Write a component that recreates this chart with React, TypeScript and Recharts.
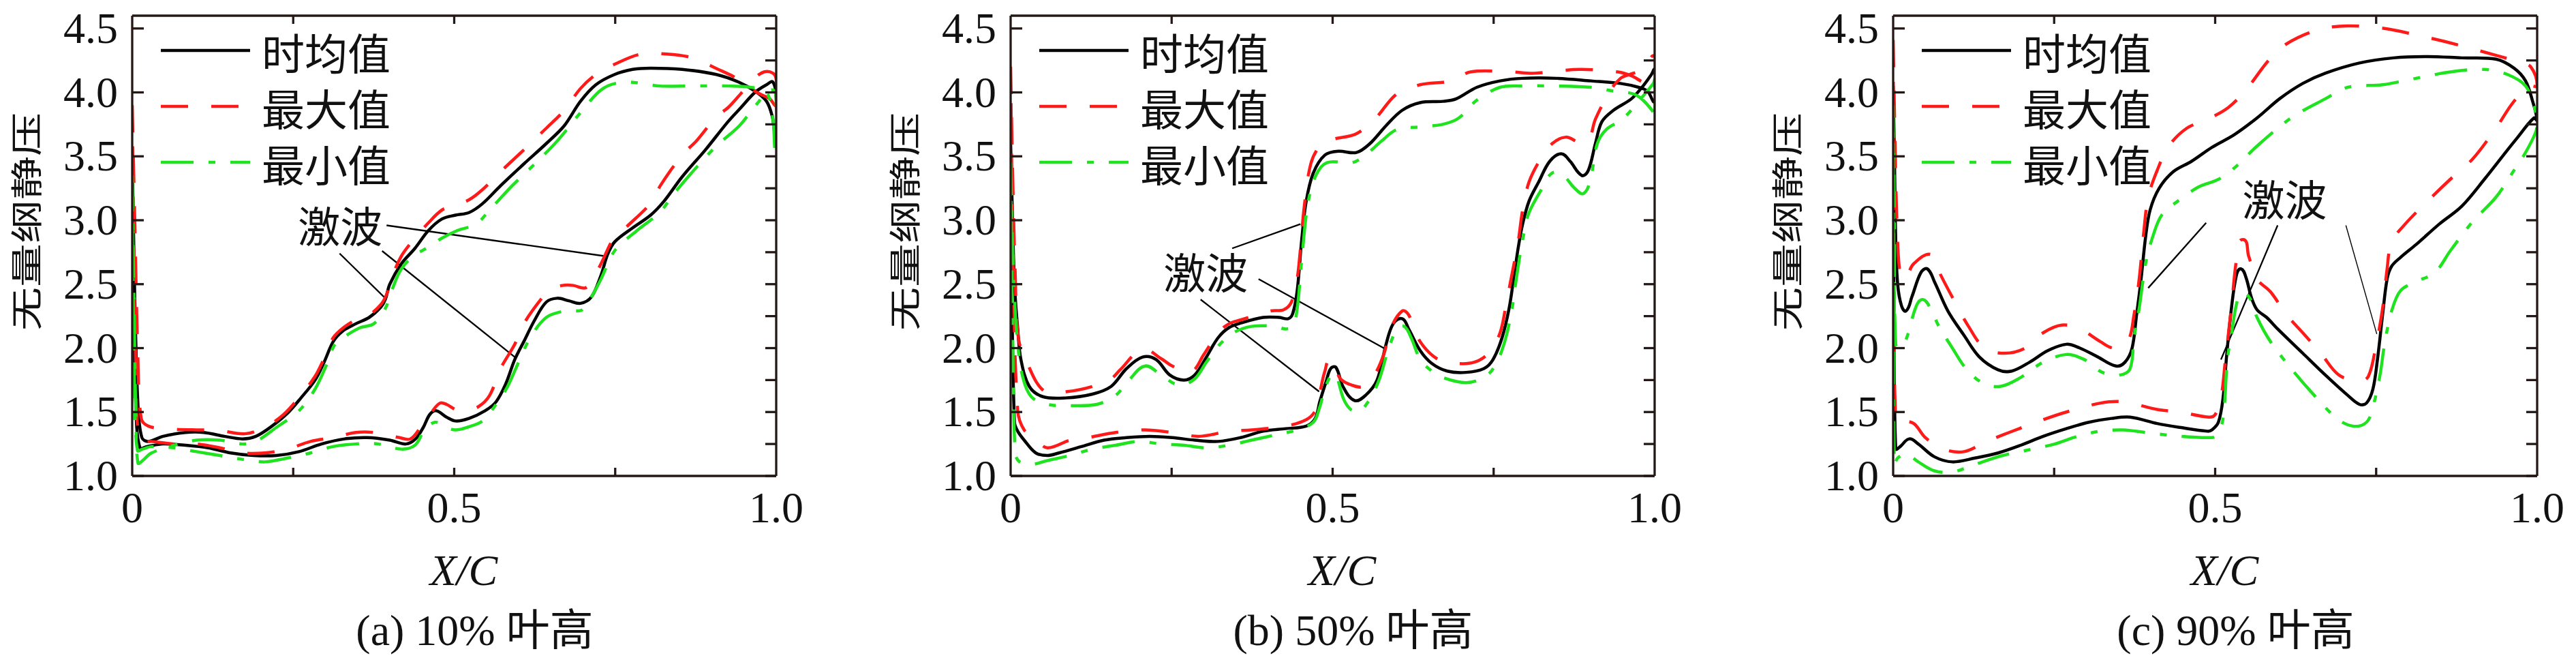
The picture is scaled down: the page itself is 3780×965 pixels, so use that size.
import React from "react";
import {
  LineChart,
  Line,
  XAxis,
  YAxis,
  ReferenceLine,
  ReferenceDot,
  Legend,
} from "recharts";

type Pt = [number, number];

// axis ticks
const xTicks = [0, 0.25, 0.5, 0.75, 1];
const yMajorTicks = [1, 1.5, 2, 2.5, 3, 3.5, 4, 4.5];
const yMinorTicks = [1, 1.25, 1.5, 1.75, 2, 2.25, 2.5, 2.75, 3, 3.25, 3.5, 3.75, 4, 4.25, 4.5];
const xLabels: Record<string, string> = { "0": "0", "0.5": "0.5", "1": "1.0" };

const seriesNames = ["时均值", "最大值", "最小值"];
const captions = ["(a) 10% 叶高", "(b) 50% 叶高", "(c) 90% 叶高"];
const shockText = "激波";

// ---- (a) 10% span : each curve is a loop, first branch LE -> TE, second TE -> LE
const aMeanUp: Pt[] = [
  [0, 3.5], [0.004, 2.4], [0.009, 1.55], [0.015, 1.3], [0.025, 1.27], [0.048, 1.31], [0.083, 1.34],
  [0.111, 1.34], [0.143, 1.31], [0.171, 1.29], [0.192, 1.31], [0.217, 1.39], [0.241, 1.49], [0.262, 1.61],
  [0.284, 1.75], [0.298, 1.89], [0.312, 2.05], [0.326, 2.13], [0.347, 2.19], [0.368, 2.24], [0.386, 2.32],
  [0.393, 2.38], [0.4, 2.5], [0.418, 2.66], [0.439, 2.78], [0.46, 2.92], [0.481, 3.01], [0.502, 3.04],
  [0.523, 3.06], [0.544, 3.13], [0.572, 3.27], [0.608, 3.44], [0.643, 3.6], [0.671, 3.74], [0.696, 3.93],
  [0.72, 4.06], [0.749, 4.14], [0.777, 4.18], [0.805, 4.19], [0.854, 4.18], [0.907, 4.14], [0.942, 4.08],
  [0.967, 4.01], [0.985, 3.93], [0.994, 3.81], [1.0, 3.65],
];
const aMeanLow: Pt[] = [
  [1.0, 3.95], [0.995, 4.08], [0.985, 4.06], [0.967, 4.0], [0.945, 3.88], [0.925, 3.77], [0.89, 3.55],
  [0.854, 3.34], [0.826, 3.15], [0.805, 3.04], [0.777, 2.94], [0.749, 2.83], [0.738, 2.73], [0.728, 2.57],
  [0.713, 2.4], [0.696, 2.35], [0.678, 2.37], [0.66, 2.39], [0.643, 2.36], [0.625, 2.22], [0.608, 2.05],
  [0.594, 1.91], [0.58, 1.72], [0.565, 1.58], [0.548, 1.51], [0.523, 1.45], [0.502, 1.43], [0.488, 1.46],
  [0.472, 1.51], [0.462, 1.48], [0.452, 1.38], [0.44, 1.29], [0.425, 1.25], [0.4, 1.28], [0.365, 1.3],
  [0.33, 1.29], [0.294, 1.25], [0.259, 1.19], [0.224, 1.16], [0.188, 1.16], [0.153, 1.18], [0.118, 1.22],
  [0.083, 1.24], [0.048, 1.25], [0.023, 1.23], [0.012, 1.22], [0.006, 1.5], [0.002, 2.5], [0, 3.5],
];
const aMaxUp: Pt[] = [
  [0, 3.9], [0.004, 3.0], [0.009, 1.9], [0.014, 1.45], [0.025, 1.39], [0.05, 1.37], [0.1, 1.36], [0.13, 1.36],
  [0.175, 1.33], [0.206, 1.38], [0.235, 1.48], [0.26, 1.62], [0.284, 1.78], [0.298, 1.92], [0.312, 2.08],
  [0.328, 2.16], [0.347, 2.22], [0.368, 2.26], [0.386, 2.34], [0.395, 2.42], [0.403, 2.55], [0.418, 2.72],
  [0.439, 2.86], [0.46, 2.98], [0.481, 3.08], [0.502, 3.12], [0.523, 3.16], [0.544, 3.24], [0.572, 3.38],
  [0.608, 3.55], [0.643, 3.72], [0.671, 3.86], [0.696, 4.03], [0.72, 4.14], [0.749, 4.22], [0.79, 4.3],
  [0.83, 4.3], [0.87, 4.27], [0.91, 4.18], [0.935, 4.12], [0.953, 4.06], [0.97, 4.0], [0.99, 3.95], [1.0, 3.9],
];
const aMaxLow: Pt[] = [
  [1.0, 4.1], [0.995, 4.15], [0.981, 4.16], [0.964, 4.1], [0.945, 3.99], [0.925, 3.88], [0.907, 3.81],
  [0.876, 3.62], [0.854, 3.51], [0.82, 3.27], [0.808, 3.15], [0.77, 2.96], [0.749, 2.87], [0.728, 2.66],
  [0.713, 2.52], [0.703, 2.47], [0.685, 2.49], [0.668, 2.49], [0.65, 2.46], [0.636, 2.39], [0.608, 2.19],
  [0.594, 2.03], [0.572, 1.84], [0.555, 1.63], [0.537, 1.54], [0.516, 1.51], [0.502, 1.52], [0.488, 1.56],
  [0.478, 1.57], [0.465, 1.5], [0.449, 1.39], [0.432, 1.29], [0.415, 1.3], [0.375, 1.34], [0.347, 1.34],
  [0.312, 1.3], [0.277, 1.27], [0.241, 1.21], [0.206, 1.18], [0.171, 1.18], [0.136, 1.22], [0.1, 1.25],
  [0.065, 1.25], [0.03, 1.27], [0.012, 1.28], [0.006, 1.8], [0.002, 3.0], [0, 3.9],
];
const aMinUp: Pt[] = [
  [0, 3.35], [0.003, 2.3], [0.006, 1.4], [0.009, 1.1], [0.016, 1.12], [0.03, 1.18], [0.065, 1.24], [0.1, 1.28],
  [0.136, 1.28], [0.171, 1.25], [0.192, 1.27], [0.224, 1.38], [0.259, 1.51], [0.284, 1.68], [0.301, 1.86],
  [0.315, 2.03], [0.333, 2.1], [0.354, 2.16], [0.375, 2.19], [0.393, 2.31], [0.403, 2.45], [0.418, 2.62],
  [0.439, 2.73], [0.453, 2.77], [0.481, 2.86], [0.505, 2.92], [0.534, 2.97], [0.555, 3.08], [0.59, 3.27],
  [0.625, 3.44], [0.66, 3.62], [0.696, 3.84], [0.731, 4.03], [0.766, 4.08], [0.819, 4.05], [0.872, 4.05],
  [0.925, 4.05], [0.96, 4.04], [0.985, 4.0], [0.995, 3.79], [1.0, 3.55],
];
const aMinLow: Pt[] = [
  [1.0, 3.9], [0.994, 4.02], [0.97, 3.91], [0.943, 3.74], [0.907, 3.58], [0.872, 3.39], [0.84, 3.2],
  [0.819, 3.06], [0.784, 2.92], [0.749, 2.76], [0.728, 2.54], [0.713, 2.4], [0.699, 2.3], [0.685, 2.29],
  [0.671, 2.29], [0.643, 2.24], [0.618, 2.08], [0.6, 1.89], [0.583, 1.7], [0.565, 1.56], [0.544, 1.43],
  [0.52, 1.38], [0.502, 1.36], [0.488, 1.38], [0.47, 1.42], [0.453, 1.35], [0.439, 1.24], [0.418, 1.21],
  [0.382, 1.25], [0.347, 1.25], [0.312, 1.23], [0.277, 1.18], [0.241, 1.14], [0.206, 1.11], [0.171, 1.13],
  [0.136, 1.16], [0.1, 1.19], [0.065, 1.22], [0.03, 1.23], [0.016, 1.21], [0.008, 1.2], [0.004, 1.6],
  [0.001, 2.6], [0, 3.35],
];

// ---- (b) 50% span
const bMeanUp: Pt[] = [
  [0, 3.6], [0.003, 3.0], [0.006, 2.5], [0.011, 2.15], [0.016, 1.91], [0.029, 1.7], [0.05, 1.62], [0.085, 1.61],
  [0.127, 1.64], [0.156, 1.7], [0.18, 1.84], [0.205, 1.93], [0.226, 1.91], [0.247, 1.79], [0.269, 1.75],
  [0.286, 1.79], [0.304, 1.93], [0.322, 2.08], [0.339, 2.16], [0.36, 2.2], [0.392, 2.24], [0.417, 2.24],
  [0.431, 2.23], [0.438, 2.27], [0.445, 2.45], [0.452, 2.85], [0.459, 3.15], [0.47, 3.37], [0.488, 3.51],
  [0.509, 3.54], [0.537, 3.53], [0.558, 3.6], [0.583, 3.74], [0.608, 3.86], [0.636, 3.92], [0.671, 3.93],
  [0.692, 3.95], [0.724, 4.04], [0.76, 4.09], [0.795, 4.11], [0.848, 4.11], [0.901, 4.09], [0.947, 4.07],
  [0.975, 4.04], [0.989, 4.01], [1.0, 3.93],
];
const bMeanLow: Pt[] = [
  [1.0, 4.18], [0.995, 4.14], [0.982, 4.05], [0.964, 3.95], [0.936, 3.86], [0.918, 3.77], [0.908, 3.6],
  [0.897, 3.39], [0.887, 3.35], [0.869, 3.46], [0.855, 3.52], [0.837, 3.46], [0.82, 3.3], [0.805, 3.15],
  [0.795, 2.97], [0.788, 2.78], [0.781, 2.54], [0.774, 2.31], [0.763, 2.08], [0.749, 1.91], [0.735, 1.84],
  [0.707, 1.81], [0.678, 1.82], [0.654, 1.88], [0.636, 1.98], [0.618, 2.15], [0.608, 2.23], [0.594, 2.19],
  [0.583, 2.03], [0.569, 1.75], [0.551, 1.63], [0.534, 1.59], [0.516, 1.7], [0.505, 1.85], [0.497, 1.84],
  [0.49, 1.74], [0.48, 1.58], [0.473, 1.45], [0.459, 1.39], [0.427, 1.37], [0.392, 1.35], [0.357, 1.3],
  [0.322, 1.27], [0.286, 1.28], [0.251, 1.3], [0.216, 1.31], [0.18, 1.3], [0.145, 1.28], [0.11, 1.23],
  [0.075, 1.18], [0.057, 1.16], [0.039, 1.18], [0.021, 1.28], [0.011, 1.35], [0.006, 1.42], [0.002, 2.4], [0, 3.6],
];
const bMaxUp: Pt[] = [
  [0, 4.2], [0.003, 3.4], [0.007, 2.6], [0.012, 2.08], [0.025, 1.89], [0.053, 1.66], [0.088, 1.66], [0.127, 1.7],
  [0.156, 1.76], [0.17, 1.83], [0.205, 1.99], [0.233, 1.92], [0.251, 1.86], [0.279, 1.81], [0.3, 1.95],
  [0.322, 2.12], [0.339, 2.19], [0.357, 2.22], [0.403, 2.29], [0.424, 2.3], [0.436, 2.36], [0.445, 2.54],
  [0.456, 3.11], [0.466, 3.44], [0.48, 3.58], [0.498, 3.63], [0.534, 3.67], [0.555, 3.74], [0.569, 3.81],
  [0.6, 3.99], [0.636, 4.06], [0.685, 4.09], [0.714, 4.16], [0.777, 4.16], [0.813, 4.15], [0.883, 4.18],
  [0.943, 4.16], [0.964, 4.13], [0.982, 4.08], [1.0, 4.05],
];
const bMaxLow: Pt[] = [
  [1.0, 4.28], [0.982, 4.18], [0.961, 4.14], [0.947, 4.11], [0.932, 4.02], [0.908, 3.79], [0.897, 3.62],
  [0.883, 3.61], [0.862, 3.65], [0.841, 3.6], [0.823, 3.48], [0.805, 3.3], [0.795, 3.08], [0.788, 2.83],
  [0.777, 2.54], [0.77, 2.36], [0.76, 2.12], [0.742, 1.96], [0.72, 1.89], [0.692, 1.88], [0.664, 1.91],
  [0.636, 2.05], [0.618, 2.26], [0.608, 2.29], [0.59, 2.15], [0.58, 1.96], [0.565, 1.79], [0.548, 1.7],
  [0.53, 1.71], [0.512, 1.76], [0.497, 1.91], [0.488, 1.82], [0.48, 1.65], [0.473, 1.51], [0.459, 1.44],
  [0.427, 1.39], [0.374, 1.36], [0.339, 1.35], [0.293, 1.31], [0.251, 1.34], [0.209, 1.36], [0.163, 1.34],
  [0.12, 1.3], [0.092, 1.28], [0.057, 1.22], [0.039, 1.29], [0.021, 1.36], [0.011, 1.51], [0.004, 2.6], [0, 4.2],
];
const bMinUp: Pt[] = [
  [0, 3.45], [0.003, 2.8], [0.007, 2.3], [0.011, 2.03], [0.018, 1.79], [0.032, 1.62], [0.057, 1.56], [0.092, 1.55],
  [0.134, 1.56], [0.163, 1.63], [0.184, 1.75], [0.209, 1.86], [0.233, 1.79], [0.262, 1.71], [0.286, 1.76],
  [0.304, 1.89], [0.325, 2.03], [0.346, 2.12], [0.374, 2.17], [0.41, 2.17], [0.427, 2.15], [0.438, 2.17],
  [0.445, 2.31], [0.452, 2.69], [0.461, 3.11], [0.473, 3.34], [0.491, 3.45], [0.53, 3.45], [0.551, 3.51],
  [0.576, 3.62], [0.6, 3.71], [0.636, 3.73], [0.671, 3.75], [0.696, 3.8], [0.724, 3.94], [0.76, 4.04],
  [0.795, 4.05], [0.848, 4.05], [0.901, 4.04], [0.936, 4.01], [0.971, 3.98], [0.996, 3.86], [1.0, 3.8],
];
const bMinLow: Pt[] = [
  [1.0, 4.1], [0.998, 4.07], [0.975, 3.93], [0.95, 3.79], [0.925, 3.71], [0.911, 3.6], [0.901, 3.34],
  [0.89, 3.21], [0.876, 3.25], [0.858, 3.35], [0.841, 3.37], [0.823, 3.23], [0.805, 3.06], [0.798, 2.92],
  [0.791, 2.73], [0.784, 2.5], [0.777, 2.26], [0.766, 2.03], [0.752, 1.86], [0.735, 1.77], [0.707, 1.73],
  [0.671, 1.77], [0.654, 1.82], [0.636, 1.91], [0.622, 2.08], [0.611, 2.17], [0.6, 2.15], [0.586, 1.98],
  [0.572, 1.75], [0.555, 1.58], [0.537, 1.5], [0.519, 1.58], [0.505, 1.79], [0.498, 1.79], [0.488, 1.68],
  [0.48, 1.54], [0.47, 1.42], [0.445, 1.36], [0.41, 1.32], [0.374, 1.28], [0.339, 1.24], [0.304, 1.22],
  [0.269, 1.24], [0.233, 1.25], [0.198, 1.27], [0.163, 1.24], [0.127, 1.21], [0.092, 1.16], [0.057, 1.12],
  [0.032, 1.09], [0.014, 1.11], [0.007, 1.18], [0.003, 2.2], [0, 3.45],
];

// ---- (c) 90% span
const cMeanUp: Pt[] = [
  [0, 4.05], [0.002, 3.5], [0.004, 2.85], [0.007, 2.5], [0.013, 2.33], [0.02, 2.29], [0.029, 2.4], [0.043, 2.59],
  [0.053, 2.62], [0.064, 2.52], [0.085, 2.29], [0.11, 2.1], [0.134, 1.93], [0.163, 1.83], [0.184, 1.82],
  [0.212, 1.89], [0.24, 1.98], [0.269, 2.03], [0.29, 2.0], [0.318, 1.93], [0.346, 1.86], [0.36, 1.89],
  [0.371, 2.0], [0.378, 2.26], [0.385, 2.54], [0.392, 2.87], [0.399, 3.08], [0.413, 3.25], [0.435, 3.38],
  [0.463, 3.46], [0.495, 3.57], [0.53, 3.67], [0.565, 3.8], [0.6, 3.95], [0.636, 4.07], [0.671, 4.15],
  [0.724, 4.23], [0.777, 4.27], [0.83, 4.28], [0.883, 4.27], [0.936, 4.26], [0.964, 4.19], [0.982, 4.09],
  [0.993, 3.93], [1.0, 3.78],
];
const cMeanLow: Pt[] = [
  [0.995, 3.8], [0.97, 3.65], [0.954, 3.55], [0.918, 3.32], [0.883, 3.11], [0.848, 2.97], [0.812, 2.81],
  [0.788, 2.71], [0.774, 2.64], [0.767, 2.54], [0.76, 2.26], [0.752, 1.91], [0.745, 1.68], [0.735, 1.57],
  [0.724, 1.56], [0.706, 1.63], [0.671, 1.79], [0.636, 1.96], [0.597, 2.15], [0.58, 2.24], [0.565, 2.3],
  [0.556, 2.4], [0.548, 2.55], [0.54, 2.62], [0.533, 2.57], [0.525, 2.3], [0.518, 1.95], [0.512, 1.6],
  [0.505, 1.42], [0.495, 1.36], [0.488, 1.35], [0.445, 1.38], [0.41, 1.41], [0.368, 1.46], [0.339, 1.45],
  [0.304, 1.42], [0.269, 1.37], [0.233, 1.31], [0.198, 1.24], [0.163, 1.18], [0.127, 1.14], [0.092, 1.11],
  [0.064, 1.15], [0.039, 1.25], [0.025, 1.29], [0.011, 1.23], [0.004, 1.21], [0.001, 2.5], [0, 4.05],
];
const cMaxUp: Pt[] = [
  [0, 4.41], [0.003, 3.6], [0.006, 2.97], [0.011, 2.57], [0.018, 2.54], [0.032, 2.66], [0.06, 2.73], [0.074, 2.57],
  [0.096, 2.36], [0.117, 2.17], [0.142, 2.0], [0.173, 1.96], [0.205, 2.0], [0.233, 2.12], [0.262, 2.18],
  [0.29, 2.15], [0.322, 2.05], [0.343, 2.0], [0.364, 2.05], [0.374, 2.26], [0.382, 2.54], [0.389, 2.9],
  [0.396, 3.18], [0.41, 3.39], [0.428, 3.58], [0.456, 3.72], [0.488, 3.79], [0.52, 3.88], [0.548, 4.02],
  [0.583, 4.25], [0.611, 4.38], [0.66, 4.49], [0.706, 4.52], [0.763, 4.5], [0.812, 4.45], [0.855, 4.4],
  [0.9, 4.34], [0.936, 4.29], [0.97, 4.24], [0.99, 4.2], [1.0, 4.05],
];
const cMaxLow: Pt[] = [
  [0.99, 4.05], [0.964, 3.93], [0.936, 3.72], [0.9, 3.48], [0.865, 3.32], [0.83, 3.15], [0.795, 2.97],
  [0.774, 2.83], [0.767, 2.62], [0.76, 2.31], [0.749, 2.0], [0.738, 1.78], [0.725, 1.74], [0.692, 1.79],
  [0.664, 1.96], [0.636, 2.12], [0.611, 2.26], [0.586, 2.44], [0.565, 2.54], [0.552, 2.72], [0.543, 2.85],
  [0.534, 2.72], [0.525, 2.31], [0.516, 1.91], [0.509, 1.61], [0.5, 1.48], [0.49, 1.46], [0.445, 1.5],
  [0.41, 1.52], [0.357, 1.58], [0.322, 1.57], [0.269, 1.5], [0.233, 1.44], [0.18, 1.34], [0.145, 1.27],
  [0.11, 1.19], [0.078, 1.21], [0.05, 1.3], [0.032, 1.41], [0.014, 1.43], [0.004, 1.43], [0.001, 3.0], [0, 4.41],
];
const cMinUp: Pt[] = [
  [0, 3.9], [0.002, 3.0], [0.004, 2.03], [0.012, 2.0], [0.021, 2.08], [0.036, 2.33], [0.046, 2.38], [0.057, 2.32],
  [0.071, 2.17], [0.092, 2.0], [0.113, 1.84], [0.138, 1.73], [0.166, 1.7], [0.198, 1.77], [0.233, 1.89],
  [0.269, 1.95], [0.297, 1.91], [0.325, 1.81], [0.353, 1.79], [0.368, 1.84], [0.374, 2.08], [0.382, 2.31],
  [0.392, 2.66], [0.403, 2.87], [0.417, 3.04], [0.442, 3.15], [0.474, 3.26], [0.505, 3.32], [0.53, 3.41],
  [0.565, 3.58], [0.618, 3.8], [0.671, 3.95], [0.706, 4.04], [0.76, 4.06], [0.812, 4.11], [0.865, 4.16],
  [0.918, 4.18], [0.954, 4.14], [0.982, 4.05], [0.996, 3.88], [1.0, 3.76],
];
const cMinLow: Pt[] = [
  [0.997, 3.68], [0.982, 3.53], [0.964, 3.39], [0.936, 3.18], [0.9, 2.99], [0.865, 2.76], [0.841, 2.59],
  [0.812, 2.52], [0.788, 2.45], [0.774, 2.29], [0.763, 2.03], [0.756, 1.79], [0.745, 1.54], [0.735, 1.42],
  [0.714, 1.39], [0.689, 1.45], [0.654, 1.63], [0.618, 1.84], [0.586, 2.05], [0.565, 2.24], [0.555, 2.38],
  [0.544, 2.43], [0.535, 2.38], [0.525, 2.1], [0.519, 1.91], [0.512, 1.44], [0.502, 1.32], [0.495, 1.3],
  [0.445, 1.31], [0.392, 1.34], [0.357, 1.36], [0.322, 1.35], [0.286, 1.31], [0.251, 1.25], [0.216, 1.21],
  [0.17, 1.16], [0.127, 1.09], [0.092, 1.03], [0.064, 1.04], [0.039, 1.11], [0.021, 1.17], [0.007, 1.14],
  [0.002, 1.09], [0.001, 2.2], [0, 3.9],
];

// shock annotations (text centre, leader lines) in data units
const aShockText: Pt = [0.323, 2.94];
const aShockLines: Pt[][] = [
  [[0.395, 2.96], [0.733, 2.72]],
  [[0.388, 2.76], [0.594, 1.93]],
  [[0.322, 2.74], [0.393, 2.39]],
];
const bShockText: Pt = [0.303, 2.58];
const bShockLines: Pt[][] = [
  [[0.344, 2.78], [0.45, 2.97]],
  [[0.385, 2.54], [0.583, 1.99]],
  [[0.295, 2.38], [0.479, 1.66]],
];
const cShockText: Pt = [0.608, 3.15];
const cShockLines: Pt[][] = [
  [[0.597, 2.96], [0.509, 1.91]],
  [[0.703, 2.96], [0.751, 2.11]],
  [[0.486, 2.98], [0.396, 2.47]],
];

// ---- layout / style
const CHART_W = 1190;
const CHART_H = 965;
const PLOT_LEFT = 194;
const PLOT_W = 945;
const PLOT_TOP = 23;
const PLOT_BOTTOM = 698;
const PANEL_LEFTS = [0, 1289, 2584];
const AXIS = "#231815";
const SERIF = '"Liberation Serif", "Times New Roman", serif';
const CJK = '"Noto Sans CJK SC", "Noto Sans", sans-serif';
const MIXED = '"Liberation Serif", "Noto Sans CJK SC", serif';

const seriesStyle = [
  { stroke: "#000000", dash: undefined as string | undefined },
  { stroke: "#ff1a1a", dash: "40 34" },
  { stroke: "#1ee31e", dash: "48 22 10 22" },
];

const toRows = (up: Pt[], low: Pt[]) => [...up, ...low].map(([x, y]) => ({ x, y }));

const panels = [
  {
    caption: captions[0],
    series: [toRows(aMeanUp, aMeanLow), toRows(aMaxUp, aMaxLow), toRows(aMinUp, aMinLow)],
    shockText: aShockText,
    shockLines: aShockLines,
    thinLine: -1,
  },
  {
    caption: captions[1],
    series: [toRows(bMeanUp, bMeanLow), toRows(bMaxUp, bMaxLow), toRows(bMinUp, bMinLow)],
    shockText: bShockText,
    shockLines: bShockLines,
    thinLine: -1,
  },
  {
    caption: captions[2],
    series: [toRows(cMeanUp, cMeanLow), toRows(cMaxUp, cMaxLow), toRows(cMinUp, cMinLow)],
    shockText: cShockText,
    shockLines: cShockLines,
    thinLine: 1,
  },
];

// smooth curve through the points (works for loops, x need not be monotone)
function smoothCurve(context: any) {
  let pts: number[][] = [];
  return {
    areaStart() {},
    areaEnd() {},
    lineStart() {
      pts = [];
    },
    point(x: number, y: number) {
      pts.push([+x, +y]);
    },
    lineEnd() {
      const n = pts.length;
      if (!n) return;
      context.moveTo(pts[0][0], pts[0][1]);
      if (n < 3) {
        for (let i = 1; i < n; i++) context.lineTo(pts[i][0], pts[i][1]);
        return;
      }
      const tan = pts.map((_, i) => {
        const a = pts[Math.max(i - 1, 0)];
        const b = pts[Math.min(i + 1, n - 1)];
        const d = Math.hypot(b[0] - a[0], b[1] - a[1]) || 1;
        return [(b[0] - a[0]) / d, (b[1] - a[1]) / d];
      });
      for (let i = 0; i < n - 1; i++) {
        const p = pts[i];
        const q = pts[i + 1];
        const l = Math.hypot(q[0] - p[0], q[1] - p[1]) / 3;
        context.bezierCurveTo(
          p[0] + tan[i][0] * l,
          p[1] + tan[i][1] * l,
          q[0] - tan[i + 1][0] * l,
          q[1] - tan[i + 1][1] * l,
          q[0],
          q[1]
        );
      }
    },
  };
}

const LeftTick = (props: any) => {
  const { x, y, payload } = props;
  return (
    <g>
      <line x1={x} y1={y} x2={x + 17} y2={y} stroke={AXIS} strokeWidth={3.3} />
      <text x={x - 21} y={y + 21} textAnchor="end" fontSize={64} fontFamily={SERIF} fill="#111">
        {Number(payload.value).toFixed(1)}
      </text>
    </g>
  );
};

const RightTick = (props: any) => {
  const { x, y } = props;
  return (
    <g>
      <line x1={x} y1={y} x2={x - 16} y2={y} stroke={AXIS} strokeWidth={3.3} />
    </g>
  );
};

const BottomTick = (props: any) => {
  const { x, y, payload } = props;
  const v = Number(payload.value);
  const label = xLabels[String(v)];
  return (
    <g>
      {v > 0 && v < 1 && <line x1={x} y1={y} x2={x} y2={y - 12} stroke={AXIS} strokeWidth={3.3} />}
      {label && (
        <text x={x} y={y + 68} textAnchor="middle" fontSize={64} fontFamily={SERIF} fill="#111">
          {label}
        </text>
      )}
    </g>
  );
};

const TopTick = (props: any) => {
  const { x, y, payload } = props;
  const v = Number(payload.value);
  return <g>{v > 0 && v < 1 && <line x1={x} y1={y} x2={x} y2={y + 12} stroke={AXIS} strokeWidth={3.3} />}</g>;
};

const LegendBox = () => (
  <svg width={640} height={290} style={{ display: "block", overflow: "visible" }}>
    {seriesNames.map((name, i) => {
      const y = 44 + i * 82;
      return (
        <g key={name}>
          <line
            x1={2}
            y1={y}
            x2={133}
            y2={y}
            stroke={seriesStyle[i].stroke}
            strokeWidth={4.5}
            strokeDasharray={seriesStyle[i].dash}
          />
          <text x={150} y={y} dominantBaseline="central" fontSize={63} fontFamily={CJK} fill="#111">
            {name}
          </text>
        </g>
      );
    })}
  </svg>
);

function Panel({ panel, left }: { panel: (typeof panels)[number]; left: number }) {
  const cx = PLOT_LEFT + PLOT_W / 2;
  return (
    <div style={{ position: "absolute", left, top: 0, width: CHART_W, height: CHART_H }}>
      <LineChart
        width={CHART_W}
        height={CHART_H}
        margin={{
          top: PLOT_TOP - 1,
          left: PLOT_LEFT - 1,
          right: CHART_W - PLOT_LEFT - PLOT_W - 1,
          bottom: CHART_H - PLOT_BOTTOM - 1,
        }}
      >
        <XAxis
          dataKey="x"
          type="number"
          domain={[0, 1]}
          allowDataOverflow
          ticks={xTicks}
          interval={0}
          height={1}
          tickSize={0}
          tickMargin={0}
          tickLine={false}
          axisLine={{ stroke: AXIS, strokeWidth: 3.3 }}
          tick={(p: any) => <BottomTick {...p} />}
          label={{
            content: () => (
              <g>
                <text
                  x={cx + 14}
                  y={858}
                  textAnchor="middle"
                  fontSize={64}
                  fontStyle="italic"
                  fontFamily={SERIF}
                  fill="#111"
                >
                  X/C
                </text>
                <text x={cx + 30} y={946} textAnchor="middle" fontSize={64} fontFamily={MIXED} fill="#111">
                  {panel.caption}
                </text>
              </g>
            ),
          }}
        />
        <XAxis
          xAxisId="top"
          orientation="top"
          dataKey="x"
          type="number"
          domain={[0, 1]}
          allowDataOverflow
          ticks={xTicks}
          interval={0}
          height={1}
          tickSize={0}
          tickMargin={0}
          tickLine={false}
          axisLine={{ stroke: AXIS, strokeWidth: 3.3 }}
          tick={(p: any) => <TopTick {...p} />}
        />
        <YAxis
          type="number"
          domain={[1, 4.6]}
          allowDataOverflow
          ticks={yMajorTicks}
          interval={0}
          width={1}
          tickSize={0}
          tickMargin={0}
          tickLine={false}
          axisLine={{ stroke: AXIS, strokeWidth: 3.3 }}
          tick={(p: any) => <LeftTick {...p} />}
          label={{
            content: () => (
              <text
                transform={`translate(${PLOT_LEFT - 158}, 325) rotate(-90) scale(1, 0.72)`}
                textAnchor="middle"
                dominantBaseline="central"
                fontSize={64}
                fontFamily={CJK}
                fill="#111"
              >
                无量纲静压
              </text>
            ),
          }}
        />
        <YAxis
          yAxisId="right"
          orientation="right"
          type="number"
          domain={[1, 4.6]}
          allowDataOverflow
          ticks={yMinorTicks}
          interval={0}
          width={1}
          tickSize={0}
          tickMargin={0}
          tickLine={false}
          axisLine={{ stroke: AXIS, strokeWidth: 3.3 }}
          tick={(p: any) => <RightTick {...p} />}
        />
        <Legend
          layout="vertical"
          align="center"
          verticalAlign="middle"
          wrapperStyle={{ left: PLOT_LEFT + 40, top: 30, width: 640, height: 290 }}
          content={() => <LegendBox />}
        />
        {panel.shockLines.map((seg, i) => (
          <ReferenceLine
            key={"s" + i}
            segment={[
              { x: seg[0][0], y: seg[0][1] },
              { x: seg[1][0], y: seg[1][1] },
            ]}
            stroke="#000"
            strokeWidth={i === panel.thinLine ? 1.4 : 2.3}
            ifOverflow="visible"
          />
        ))}
        <ReferenceDot
          x={panel.shockText[0]}
          y={panel.shockText[1]}
          r={0}
          fill="none"
          stroke="none"
          ifOverflow="visible"
          label={{ value: shockText, position: "center", fontSize: 62, fontFamily: CJK, fill: "#111" }}
        />
        {panel.series.map((rows, i) => (
          <Line
            key={seriesNames[i]}
            data={rows}
            dataKey="y"
            name={seriesNames[i]}
            type={smoothCurve as any}
            stroke={seriesStyle[i].stroke}
            strokeWidth={4.5}
            strokeDasharray={seriesStyle[i].dash}
            dot={false}
            activeDot={false}
            legendType="none"
            isAnimationActive={false}
          />
        ))}
      </LineChart>
    </div>
  );
}

export default function App() {
  return (
    <div style={{ position: "absolute", left: 0, top: 0, width: 3780, height: 965, background: "#fff" }}>
      {panels.map((p, i) => (
        <Panel key={p.caption} panel={p} left={PANEL_LEFTS[i]} />
      ))}
    </div>
  );
}
